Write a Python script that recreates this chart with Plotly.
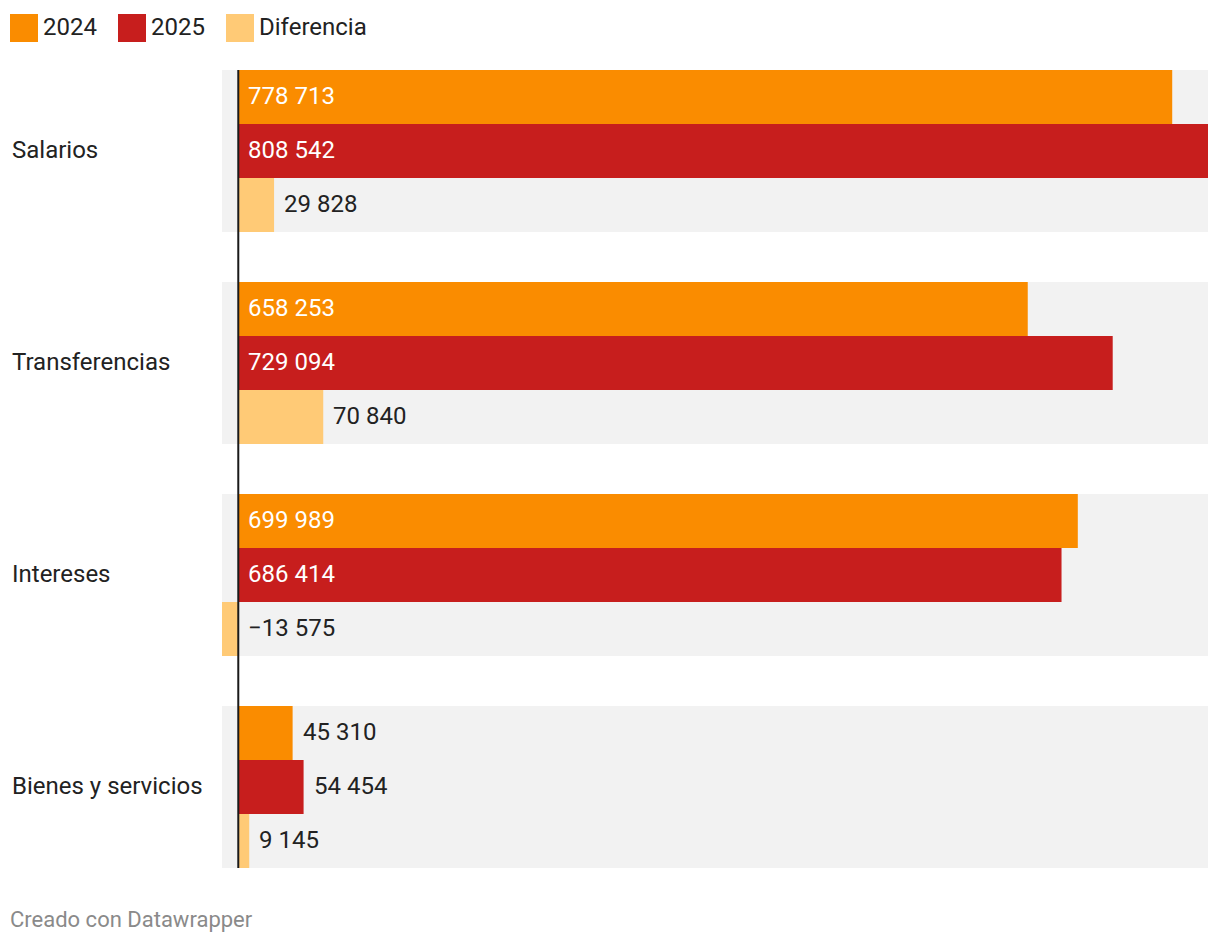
import plotly.graph_objects as go

categories = ["Salarios", "Transferencias", "Intereses", "Bienes y servicios"]
series_names = ["2024", "2025", "Diferencia"]
values_2024 = [778713, 658253, 699989, 45310]
values_2025 = [808542, 729094, 686414, 54454]
values_diff = [29828, 70840, -13575, 9145]
colors = ["#fa8c00", "#c71e1d", "#ffca76"]

# page offset (browser body margin)
OX, OY = 8, 8
W, H = 1220, 944
PL, PR, PT, PB = 222, 1208, 70, 868
L = PL - OX
T = PT - OY
R = W - (PR - OX)
B = H - (PB - OY)
plot_w = W - L - R
plot_h = H - T - B
BAR = 54
GAP = 50
GROUP = 3 * BAR
FONT = "Roboto"
FS = 24


def px(xpage):
    return (xpage - PL) / plot_w


def py(ypage):
    return (PB - ypage) / plot_h


series = [values_2024, values_2025, values_diff]
all_vals = values_2024 + values_2025 + values_diff
xmin = min(0, min(all_vals))
xmax = max(all_vals)
px_per_unit = plot_w / (xmax - xmin)

fig = go.Figure()
shapes = []
annotations = []

for i, cat in enumerate(categories):
    top = i * (GROUP + GAP)
    shapes.append(dict(type="rect", xref="x", yref="y", x0=xmin, x1=xmax,
                       y0=top, y1=top + GROUP, fillcolor="#f2f2f2",
                       line=dict(width=0), layer="below"))
    annotations.append(dict(xref="paper", yref="y", x=px(10),
                            y=top + GROUP / 2, yshift=1, text=cat, showarrow=False,
                            xanchor="left", yanchor="middle",
                            font=dict(family=FONT, size=FS, color="#222")))

for j, (name, vals) in enumerate(zip(series_names, series)):
    ys = [i * (GROUP + GAP) + j * BAR + BAR / 2 for i in range(len(categories))]
    fig.add_trace(go.Bar(x=vals, y=ys, orientation="h", width=BAR,
                         marker=dict(color=colors[j], line=dict(width=0)),
                         name=name, showlegend=False, hoverinfo="skip"))
    for v, y in zip(vals, ys):
        label = f"{abs(v):,}".replace(",", " ")
        if v < 0:
            label = "\u2212" + label
        inside = v * px_per_unit > 110
        annotations.append(dict(xref="x", yref="y", x=0 if inside else max(v, 0), y=y,
                                text=label, showarrow=False, xanchor="left",
                                yanchor="middle", xshift=8, yshift=1,
                                font=dict(family=FONT, size=FS,
                                          color="#ffffff" if inside else "#222")))

shapes.append(dict(type="line", xref="x", yref="paper", x0=0, x1=0, y0=0, y1=1,
                   line=dict(color="#1a1a1a", width=2), layer="above"))

lx = 10
for j, name in enumerate(series_names):
    shapes.append(dict(type="rect", xref="paper", yref="paper",
                       x0=px(lx), x1=px(lx + 28), y0=py(42), y1=py(14),
                       fillcolor=colors[j], line=dict(width=0)))
    annotations.append(dict(xref="paper", yref="paper", x=px(lx + 31), y=py(27),
                            text=name, showarrow=False, xanchor="left", yanchor="middle",
                            font=dict(family=FONT, size=FS, color="#222")))
    lx += 108

annotations.append(dict(xref="paper", yref="paper", x=px(8), y=py(920),
                        text="Creado con Datawrapper", showarrow=False,
                        xanchor="left", yanchor="middle",
                        font=dict(family=FONT, size=22, color="#8a8a8a")))

total_h = len(categories) * GROUP + (len(categories) - 1) * GAP
fig.update_layout(
    width=W, height=H,
    margin=dict(l=L, r=R, t=T, b=B),
    paper_bgcolor="white", plot_bgcolor="white",
    barmode="overlay",
    xaxis=dict(range=[xmin, xmax], visible=False, fixedrange=True),
    yaxis=dict(range=[total_h, 0], visible=False, fixedrange=True),
    shapes=shapes, annotations=annotations,
    showlegend=False,
)

fig.write_html("out.html")
